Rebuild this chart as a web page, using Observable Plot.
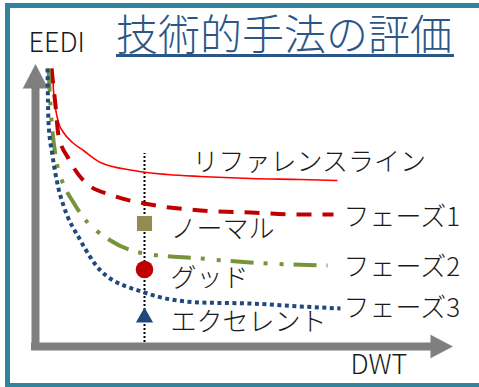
<!DOCTYPE html>
<html><head><meta charset="utf-8">
<script src="https://cdn.jsdelivr.net/npm/d3@7"></script>
<script src="https://cdn.jsdelivr.net/npm/@observablehq/plot@0.6"></script>
<style>
html,body{margin:0;padding:0;background:#fff;overflow:hidden;}
#wrap{position:relative;width:479px;height:387px;overflow:hidden;font-family:"Noto Sans CJK JP",sans-serif;}
#frame{position:absolute;left:5px;top:3px;width:490px;height:385px;border:5px solid #31849B;box-sizing:border-box;}
#title{position:absolute;left:116px;top:10px;font-size:42px;line-height:44px;font-weight:300;color:#2A5788;border-bottom:3px solid #2A5788;padding:0 2px 0 0;white-space:nowrap;}
#chart{position:absolute;left:0;top:0;}
</style></head>
<body><div id="wrap"><div id="frame"></div><div id="chart"></div><div id="title">技術的手法の評価</div></div>
<script>
// Curves (x = DWT, y = EEDI, arbitrary units)
const refDWT  = [17,18,23,28,37,48,65,98,132,165,215,265,302];
const refEEDI = [278,256,224,214,204,196,184,176,172,170,168,167,166];
const ph1DWT  = [16,20,23,33,50,77,109,165,215,265,298];
const ph1EEDI = [278,241,211,188,164,151,143,136,134,132,132];
const ph2DWT  = [13,15,20,30,38,45,75,109,165,215,292];
const ph2EEDI = [278,241,191,158,144,133,106,93,88,84,81];
const ph3DWT  = [12,13,17,23,28,45,65,109,165,215,265,305];
const ph3EEDI = [278,224,191,158,141,106,76,54,44,43,40,38];

const seriesNames = ["リファレンスライン","フェーズ1","フェーズ2","フェーズ3"];
const seriesLabelDWT = [157,308,308,308];
const seriesLabelEEDI = [184,129,79,38];

const gradeNames = ["ノーマル","グッド","エクセレント"];
const gradeDWT = 109;
const gradeEEDI = [123,77,29];
const gradeLabelDWT = 135;
const gradeLabelEEDI = [117,68,24];

const axisNames = ["EEDI","DWT"];

const styles = [
  {stroke:"#FF0000", strokeWidth:1.6, strokeDasharray:null},
  {stroke:"#C00000", strokeWidth:4, strokeDasharray:"15,11"},
  {stroke:"#77933C", strokeWidth:4, strokeDasharray:"23,10,4,12,4,10"},
  {stroke:"#1F497D", strokeWidth:4, strokeDasharray:"4,3.5"}
];
const curves = [[refDWT,refEEDI],[ph1DWT,ph1EEDI],[ph2DWT,ph2EEDI],[ph3DWT,ph3EEDI]];
const gradeStyle = [
  {symbol:"square", r:8.5, fill:"#948A54"},
  {symbol:"circle", r:8.8, fill:"#C00000"},
  {symbol:"triangle", r:6.4, fill:"#1F497D"}
];

const font = "'Noto Sans CJK JP', sans-serif";
const gray = "#7F7F7F";
const marks = [];
// axes
marks.push(Plot.ruleX([0], {y1:-4, y2:259, stroke:gray, strokeWidth:8}));
marks.push(Plot.ruleY([0], {x1:-4, x2:396, stroke:gray, strokeWidth:8}));
marks.push(Plot.vector([{x:0,y:258}], {x:"x", y:"y", shape:"spike", length:24, r:12.5, rotate:0, anchor:"start", fill:gray, stroke:gray, strokeWidth:0.5}));
marks.push(Plot.vector([{x:395,y:0}], {x:"x", y:"y", shape:"spike", length:22, r:11.5, rotate:90, anchor:"start", fill:gray, stroke:gray, strokeWidth:0.5}));
// vertical dotted guide
marks.push(Plot.ruleX([gradeDWT], {y1:4, y2:193, stroke:"#000", strokeWidth:2, strokeDasharray:"2,2"}));
// curves
curves.forEach(([xs,ys],i) => {
  const data = xs.map((x,j)=>({x, y:ys[j]}));
  const s = styles[i];
  marks.push(Plot.line(data, {x:"x", y:"y", curve:"monotone-x", stroke:s.stroke, strokeWidth:s.strokeWidth, strokeDasharray:s.strokeDasharray, strokeLinecap:"butt"}));
});
// grade markers
gradeNames.forEach((n,i) => {
  const g = gradeStyle[i];
  marks.push(Plot.dot([{x:gradeDWT, y:gradeEEDI[i]}], {x:"x", y:"y", symbol:g.symbol, r:g.r, fill:g.fill, stroke:"none"}));
});
// labels
marks.push(Plot.text(seriesNames.map((t,i)=>({t, x:seriesLabelDWT[i], y:seriesLabelEEDI[i]})), {x:"x", y:"y", text:"t", textAnchor:"start", fontSize:26, fontWeight:300, fontFamily:font, fill:"#1a1a1a"}));
marks.push(Plot.text(gradeNames.map((t,i)=>({t, x:gradeLabelDWT, y:gradeLabelEEDI[i]})), {x:"x", y:"y", text:"t", textAnchor:"start", fontSize:26, fontWeight:300, fontFamily:font, fill:"#1a1a1a"}));
marks.push(Plot.text([{t:axisNames[0], x:-7, y:303},{t:axisNames[1], x:315, y:-19}], {x:"x", y:"y", text:"t", textAnchor:"start", fontSize:27, fontWeight:300, fontFamily:font, fill:"#1a1a1a"}));

const chart = Plot.plot({
  width:479, height:387, margin:0,
  x:{domain:[0,420], range:[35,455], axis:null},
  y:{domain:[0,300], range:[346,46], axis:null},
  style:{background:"transparent", fontFamily:font},
  marks
});
document.getElementById("chart").appendChild(chart);
</script>
</body></html>
